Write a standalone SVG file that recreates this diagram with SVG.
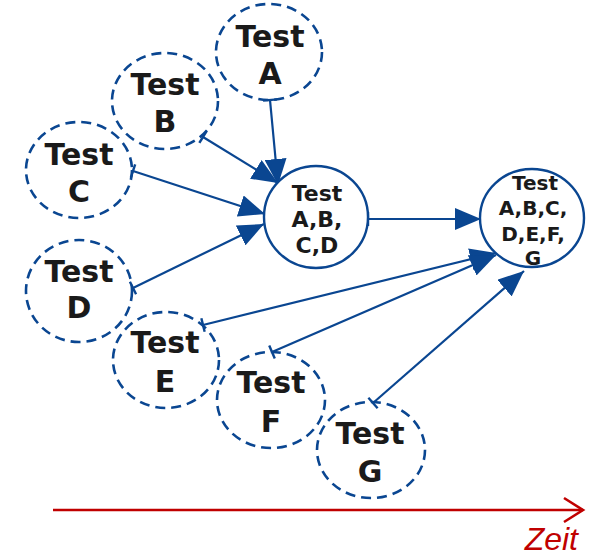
<svg xmlns="http://www.w3.org/2000/svg" width="592" height="560" viewBox="0 0 592 560">
<style>
.dn{fill:none;stroke:#0a4691;stroke-width:2.6;stroke-dasharray:10 6}
.sn{fill:#fff;stroke:#0a4691;stroke-width:2.4}
.t{font-family:"DejaVu Sans",Verdana,sans-serif;font-weight:bold;font-size:30px;fill:#1a1a1a;text-anchor:middle}
.t2{font-size:22px}
.t3{font-size:20px}
.e{fill:none;stroke:#0a4691;stroke-width:2.2;marker-start:url(#tee);marker-end:url(#ah)}
</style>
<defs>
<marker id="ah" markerUnits="userSpaceOnUse" markerWidth="28" markerHeight="22" refX="26" refY="11" orient="auto">
<path d="M0,0 L26,11 L0,22 z" fill="#0a4691"/>
</marker>
<marker id="tee" markerUnits="userSpaceOnUse" markerWidth="6" markerHeight="16" refX="3" refY="8" orient="auto">
<path d="M3,1 L3,15" stroke="#0a4691" stroke-width="2.4"/>
</marker>
</defs>
<g id="connectors">
<line class="e" x1="270" y1="100" x2="278" y2="185"/>
<line class="e" x1="203" y1="137" x2="278" y2="183"/>
<line class="e" x1="133" y1="171" x2="265" y2="214"/>
<line class="e" x1="133" y1="288" x2="264" y2="224"/>
<line class="e" x1="368" y1="219" x2="481" y2="219"/>
<line class="e" x1="203" y1="325" x2="496" y2="253"/>
<line class="e" x1="272" y1="352" x2="496" y2="255"/>
<line class="e" x1="373" y1="403" x2="524" y2="271"/>
</g>
<g id="nodeA"><ellipse class="dn" cx="269" cy="52" rx="53" ry="48"/><text class="t" x="270" y="47">Test</text><text class="t" x="270" y="84">A</text></g>
<g id="nodeB"><ellipse class="dn" cx="165" cy="101" rx="53" ry="48"/><text class="t" x="165" y="95">Test</text><text class="t" x="165" y="132">B</text></g>
<g id="nodeC"><ellipse class="dn" cx="79" cy="170" rx="53" ry="48"/><text class="t" x="79" y="165">Test</text><text class="t" x="79" y="202">C</text></g>
<g id="nodeD"><ellipse class="dn" cx="79" cy="291" rx="53" ry="51"/><text class="t" x="79" y="282">Test</text><text class="t" x="79" y="318">D</text></g>
<g id="nodeE"><ellipse class="dn" cx="166" cy="360" rx="53" ry="48"/><text class="t" x="165" y="353">Test</text><text class="t" x="165" y="392">E</text></g>
<g id="nodeF"><ellipse class="dn" cx="271" cy="400" rx="54" ry="48"/><text class="t" x="271" y="393">Test</text><text class="t" x="271" y="432">F</text></g>
<g id="nodeG"><ellipse class="dn" cx="371" cy="450" rx="54" ry="48"/><text class="t" x="370" y="444">Test</text><text class="t" x="370" y="482">G</text></g>
<g id="nodeABCD"><ellipse class="sn" cx="316" cy="217" rx="52" ry="51"/><text class="t t2" x="317" y="201">Test</text><text class="t t2" x="317" y="227">A,B,</text><text class="t t2" x="317" y="253">C,D</text></g>
<g id="nodeAll"><ellipse class="sn" cx="532" cy="218" rx="52" ry="49"/><text class="t t3" x="535" y="190">Test</text><text class="t t3" x="533" y="215">A,B,C,</text><text class="t t3" x="533" y="241">D,E,F,</text><text class="t t3" x="533" y="265">G</text></g>
<g id="timeaxis">
<line x1="53" y1="510" x2="583" y2="510" stroke="#c00000" stroke-width="2.6"/>
<path d="M564,498 L583,510 L564,522" fill="none" stroke="#c00000" stroke-width="2.6"/>
<text x="578" y="550" font-family="Liberation Sans,Arial,sans-serif" font-style="italic" font-size="32" fill="#c00000" text-anchor="end">Zeit</text>
</g>
</svg>
